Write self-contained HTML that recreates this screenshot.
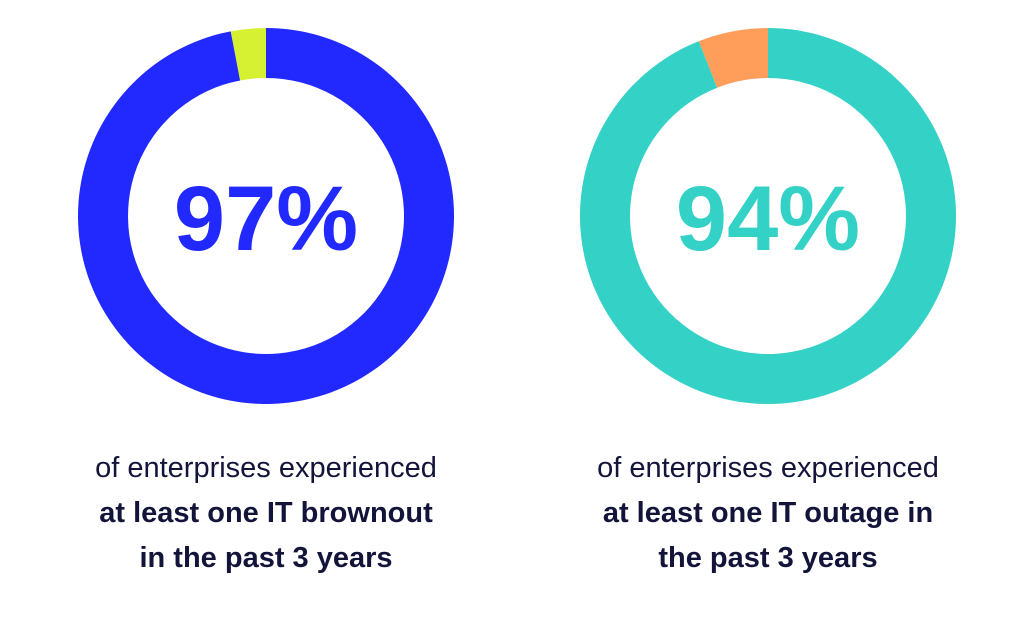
<!DOCTYPE html>
<html><head><meta charset="utf-8"><style>
html,body{margin:0;padding:0;background:#fff;width:1032px;height:636px;overflow:hidden;font-family:"Liberation Sans",sans-serif}
.cap{position:absolute;width:480px;text-align:center;color:#13143a;font-size:29px;line-height:45px}
.cap b{font-weight:700}
</style></head><body>
<svg id="chart" width="1032" height="636" style="position:absolute;left:0;top:0"></svg>
<div class="cap" style="left:26px;top:446px">of enterprises experienced<br><b>at least one IT brownout<br>in the past 3 years</b></div>
<div class="cap" style="left:528px;top:446px">of enterprises experienced<br><b>at least one IT outage in<br>the past 3 years</b></div>
<script>
const labels = ["97%", "94%"];
const values = [97, 94];
const mainColors = ["#2129ff", "#33d1c6"];
const restColors = ["#d6f032", "#ff9e5a"];
const centersX = [266, 768];
const cy = 216, R = 188, r = 138;
const ns = "http://www.w3.org/2000/svg";
const svg = document.getElementById("chart");
function pt(cx, rad, frac){const a = frac*2*Math.PI - Math.PI/2;return [cx+rad*Math.cos(a), cy+rad*Math.sin(a)];}
function arc(cx, f0, f1){
  const large = (f1-f0) > 0.5 ? 1 : 0;
  const [x0,y0]=pt(cx,R,f0),[x1,y1]=pt(cx,R,f1),[x2,y2]=pt(cx,r,f1),[x3,y3]=pt(cx,r,f0);
  return `M${x0},${y0}A${R},${R} 0 ${large} 1 ${x1},${y1}L${x2},${y2}A${r},${r} 0 ${large} 0 ${x3},${y3}Z`;
}
values.forEach((v,i)=>{
  const f = v/100;
  const p1 = document.createElementNS(ns,"path");
  p1.setAttribute("d", arc(centersX[i], 0, f));
  p1.setAttribute("fill", mainColors[i]);
  
  
  svg.appendChild(p1);
  const p2 = document.createElementNS(ns,"path");
  p2.setAttribute("d", arc(centersX[i], f, 1));
  p2.setAttribute("fill", restColors[i]);
  
  
  svg.appendChild(p2);
  const t = document.createElementNS(ns,"text");
  t.setAttribute("x", centersX[i]);
  t.setAttribute("y", 250);
  t.setAttribute("text-anchor","middle");
  t.setAttribute("font-family","Liberation Sans, sans-serif");
  t.setAttribute("font-weight","700");
  t.setAttribute("font-size","92");
  t.setAttribute("fill", mainColors[i]);
  t.textContent = labels[i];
  
  
  svg.appendChild(t);
});
</script>
</body></html>
